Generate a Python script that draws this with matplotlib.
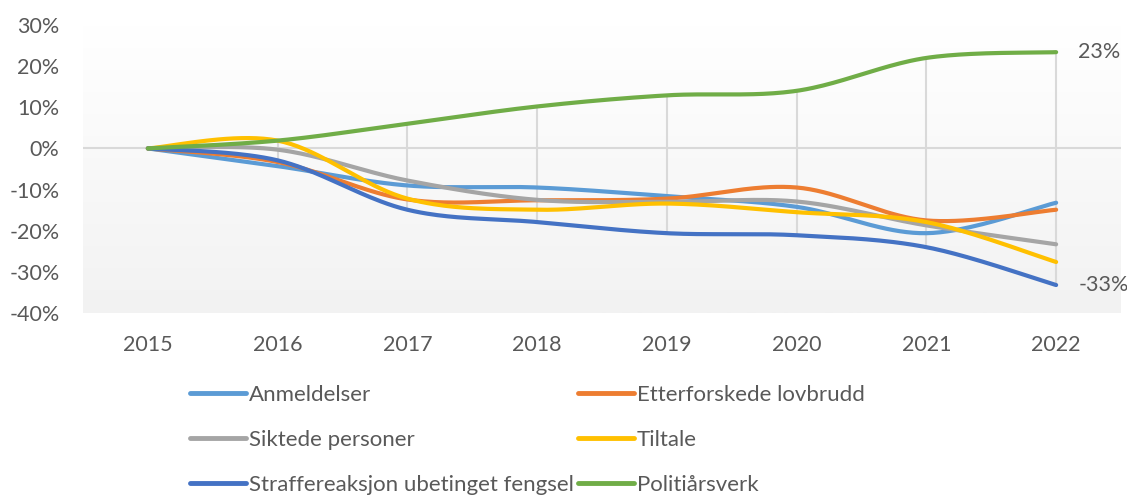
import numpy as np
import matplotlib
matplotlib.use("Agg")
import matplotlib.pyplot as plt
from matplotlib.colors import LinearSegmentedColormap

plt.rcParams['font.family'] = ['Lato', 'DejaVu Sans']

years = [2015, 2016, 2017, 2018, 2019, 2020, 2021, 2022]

# percent change since 2015
anmeldelser = [0, -4.3, -9.0, -9.5, -11.6, -14.2, -20.6, -13.2]
etterforskede = [0, -3.3, -12.4, -12.6, -12.2, -9.5, -17.5, -14.9]
siktede = [0, -0.3, -7.8, -12.5, -13.0, -12.9, -18.7, -23.3]
tiltale = [0, 1.9, -12.2, -14.9, -13.4, -15.5, -17.9, -27.6]
straffereaksjon = [0, -2.9, -14.9, -17.9, -20.6, -21.1, -24.0, -33.2]
politiarsverk = [0, 1.9, 6.0, 10.2, 12.9, 14.0, 22.0, 23.4]

names = ["Anmeldelser", "Etterforskede lovbrudd", "Siktede personer", "Tiltale",
         "Straffereaksjon ubetinget fengsel", "Politiårsverk"]
series = [anmeldelser, etterforskede, siktede, tiltale, straffereaksjon, politiarsverk]
colors = ["#5B9BD5", "#ED7D31", "#A5A5A5", "#FFC000", "#4472C4", "#70AD47"]

end_labels = {"Politiårsverk": "23%", "Straffereaksjon ubetinget fengsel": "-33%"}
text_col = "#595959"


def smooth(x, y, n=40):
    # Excel-style smoothed line (cardinal bezier through the points)
    x = np.asarray(x, float)
    y = np.asarray(y, float)
    xs, ys = [], []
    for i in range(len(x) - 1):
        a = i - 1 if i > 0 else i
        d = i + 2 if i + 2 < len(x) else i + 1
        p0 = np.array([x[i], y[i]])
        p3 = np.array([x[i + 1], y[i + 1]])
        p1 = p0 + (np.array([x[i + 1], y[i + 1]]) - np.array([x[a], y[a]])) / 6
        p2 = p3 - (np.array([x[d], y[d]]) - np.array([x[i], y[i]])) / 6
        t = np.linspace(0, 1, n)[:, None]
        pts = (1 - t) ** 3 * p0 + 3 * (1 - t) ** 2 * t * p1 + 3 * (1 - t) * t ** 2 * p2 + t ** 3 * p3
        xs.extend(pts[:, 0])
        ys.extend(pts[:, 1])
    return np.array(xs), np.array(ys)


fig = plt.figure(figsize=(11.27, 4.98), dpi=100)
ax = fig.add_axes([83 / 1127, 1 - 313 / 498, (1121 - 83) / 1127, (313 - 25) / 498])

# gradient background
cmap = LinearSegmentedColormap.from_list("bg", ["#f2f2f2", "#ffffff"])
grad = np.linspace(0, 1, 256).reshape(-1, 1)
ax.imshow(grad, extent=[0, 1, 0, 1], transform=ax.transAxes, cmap=cmap,
          aspect="auto", origin="lower", zorder=0)

ax.axhline(0, color="#d9d9d9", lw=1.5, zorder=1)

# high-low lines
arr = np.array(series)
ax.vlines(years, arr.min(axis=0), arr.max(axis=0), color="#d9d9d9", lw=1.5, zorder=1)

handles = {}
for name, vals, c in zip(names, series, colors):
    sx, sy = smooth(years, vals)
    h, = ax.plot(sx, sy, color=c, lw=3.0, solid_capstyle="round", zorder=3, label=name)
    handles[name] = h
    if name in end_labels:
        ax.annotate(end_labels[name], (years[-1], vals[-1]), xytext=(22, 0),
                    textcoords="offset pixels",
                    va="center", ha="left", fontsize=15.5, color=text_col)

ax.set_xlim(2014.5, 2022.5)
ax.set_ylim(-40, 30)
ax.set_xticks(years)
ax.set_xticklabels([str(y) for y in years])
ax.set_yticks(range(-40, 31, 10))
ax.set_yticklabels([f"{v}%" for v in range(-40, 31, 10)])
ax.tick_params(length=0, labelsize=15.5, colors=text_col)
ax.tick_params(axis="x", pad=16)
ax.tick_params(axis="y", pad=17)
for s in ax.spines.values():
    s.set_visible(False)

order = ["Anmeldelser", "Siktede personer", "Straffereaksjon ubetinget fengsel",
         "Etterforskede lovbrudd", "Tiltale", "Politiårsverk"]
leg = fig.legend([handles[n] for n in order], order, ncol=2, loc="upper left",
                 bbox_to_anchor=(170 / 1127, 1 - 365 / 498), frameon=False,
                 fontsize=16, handlelength=2.5, handletextpad=0.15,
                 columnspacing=0.2, labelspacing=1.12, labelcolor=text_col)
for lh in leg.get_lines():
    lh.set_linewidth(3.5)

fig.savefig("out.png", dpi=100)
